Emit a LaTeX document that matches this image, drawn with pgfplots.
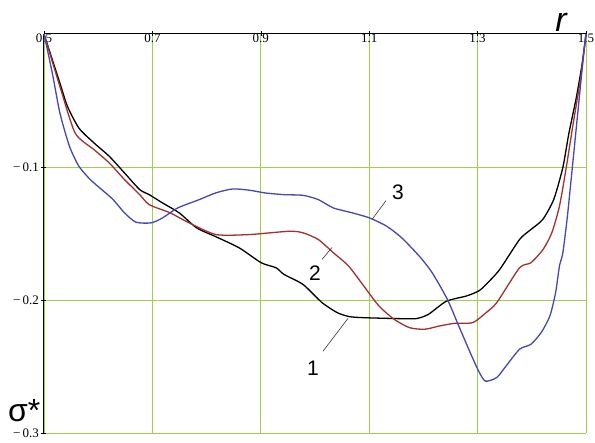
\documentclass[border=0pt]{standalone}
\usepackage{pgfplots}
\pgfplotsset{compat=1.18}
\usepackage{fontspec}
\setmainfont{Liberation Sans}
\newfontfamily\tickfont{Liberation Serif}
\definecolor{GridGreen}{HTML}{A2D04A}
\definecolor{CurveRed}{HTML}{A3302B}
\definecolor{CurveBlue}{HTML}{4646B4}

\begin{document}
\begin{tikzpicture}
\begin{axis}[
    width=542pt, height=399pt, scale only axis,
    xmin=0.5, xmax=1.5, ymin=-0.3, ymax=0,
    axis x line*=top, axis y line*=left,
    axis line style={-, black, line width=1pt},
    xtick={0.5,0.7,0.9,1.1,1.3,1.5},
    xticklabels={0.5,0.7,0.9,1.1,1.3,1.5},
    ytick={-0.3,-0.2,-0.1},
    yticklabels={−\,0.3,−\,0.2,−\,0.1},
    tick align=center,
    major tick length=5pt,
    tick style={black, line width=0.6pt},
    grid=major,
    grid style={GridGreen, line width=0.9pt},
    clip=false,
    every axis plot/.append style={smooth, tension=0.4, line width=1.3pt},
    tick label style={font=\tickfont\fontsize{13}{14}\selectfont},
    x tick label style={anchor=north, yshift=1pt},
    y tick label style={anchor=east, xshift=1pt},
]
% curve 1
\addplot[black] coordinates {
 (0.5,0) (0.5294,-0.037) (0.5434,-0.0545) (0.5645,-0.0708) (0.5925,-0.082)
 (0.6205,-0.092) (0.6486,-0.1045) (0.6766,-0.117) (0.6941,-0.1208) (0.7186,-0.127)
 (0.7495,-0.1345) (0.7817,-0.1458) (0.8175,-0.1525) (0.8602,-0.1608) (0.9008,-0.172)
 (0.9282,-0.1758) (0.9429,-0.1808) (0.9779,-0.1883) (1.0130,-0.202) (1.041,-0.2095)
 (1.0634,-0.2125) (1.090,-0.2133) (1.1531,-0.214) (1.1868,-0.214) (1.2092,-0.2108)
 (1.2421,-0.201) (1.2793,-0.197) (1.3017,-0.1933) (1.3157,-0.1883) (1.3409,-0.177)
 (1.3774,-0.1545) (1.3984,-0.147) (1.4201,-0.1395) (1.4404,-0.1245) (1.4573,-0.1003)
 (1.4685,-0.0745) (1.4825,-0.047) (1.493,-0.022) (1.5,0)
};
% curve 2
\addplot[CurveRed] coordinates {
 (0.5,0) (0.5294,-0.0395) (0.5575,-0.0745) (0.5925,-0.087) (0.6205,-0.097)
 (0.6486,-0.1095) (0.6766,-0.1208) (0.6941,-0.1283) (0.7327,-0.1345) (0.7677,-0.142)
 (0.8175,-0.1508) (0.8791,-0.1508) (0.9527,-0.1483) (0.9779,-0.1495) (1.006,-0.1545)
 (1.034,-0.1645) (1.062,-0.1745) (1.090,-0.1895) (1.118,-0.2045) (1.146,-0.2145)
 (1.1741,-0.2208) (1.2022,-0.222) (1.2302,-0.2195) (1.2582,-0.2175) (1.2912,-0.217)
 (1.3157,-0.2095) (1.3353,-0.202) (1.3774,-0.1758) (1.3984,-0.172) (1.4208,-0.162)
 (1.4369,-0.1495) (1.451,-0.1295) (1.4636,-0.1003) (1.4755,-0.0695) (1.4895,-0.0345)
 (1.5,0)
};
% curve 3
\addplot[CurveBlue] coordinates {
 (0.5,0) (0.5154,-0.0295) (0.5294,-0.0595) (0.547,-0.0845) (0.5645,-0.0995)
 (0.5855,-0.1095) (0.6065,-0.117) (0.6275,-0.1245) (0.6486,-0.1345) (0.6696,-0.1415)
 (0.6976,-0.142) (0.7186,-0.1383) (0.7467,-0.1308) (0.7866,-0.1245) (0.8167,-0.1195)
 (0.8483,-0.1165) (0.8798,-0.1175) (0.9078,-0.1195) (0.9429,-0.1208) (0.9779,-0.1213)
 (1.006,-0.1245) (1.034,-0.1308) (1.069,-0.1345) (1.1006,-0.1383) (1.1321,-0.1445)
 (1.1601,-0.1533) (1.193,-0.1673) (1.2162,-0.1795) (1.2442,-0.1995) (1.2652,-0.2195)
 (1.2863,-0.2395) (1.3017,-0.2533) (1.3143,-0.261) (1.3353,-0.2583) (1.3528,-0.2495)
 (1.3774,-0.237) (1.3984,-0.2333) (1.4173,-0.2245) (1.4334,-0.212) (1.4439,-0.1945)
 (1.451,-0.1745) (1.4573,-0.1645) (1.4657,-0.137) (1.4748,-0.1003) (1.486,-0.0545)
 (1.4965,-0.012) (1.5,0)
};
% curve labels with leaders
\draw[black!80, line width=0.6pt] (axis cs:1.0148,-0.2385) -- (axis cs:1.0609,-0.2138);
\draw[black!80, line width=0.6pt] (axis cs:1.0129,-0.1695) -- (axis cs:1.0314,-0.1605);
\draw[black!80, line width=0.6pt] (axis cs:1.1052,-0.1395) -- (axis cs:1.131,-0.1253);
\node[font=\fontsize{21}{22}\selectfont] at (axis cs:0.9963,-0.2517) {1};
\node[font=\fontsize{21}{22}\selectfont] at (axis cs:1.0,-0.1797) {2};
\node[font=\fontsize{21}{22}\selectfont] at (axis cs:1.1531,-0.1189) {3};
% axis names
\node[font=\itshape\fontsize{34}{36}\selectfont, anchor=base] at (axis cs:1.454,0) [yshift=2pt] {r};
\node[font=\fontsize{32}{34}\selectfont, anchor=base west, inner sep=0pt] at (axis cs:0.5,-0.291) [xshift=-36pt] {σ*};
\end{axis}
\pgfresetboundingbox
\path[use as bounding box] ([shift={(-44pt,-10pt)}]current axis.south west) rectangle ([shift={(9pt,34pt)}]current axis.north east);
\end{tikzpicture}
\end{document}
